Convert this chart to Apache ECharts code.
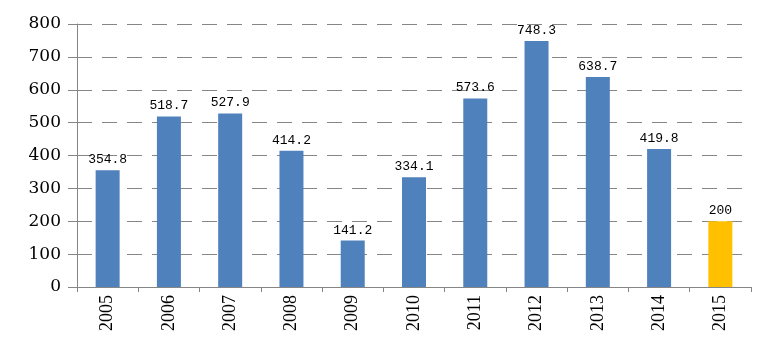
<!DOCTYPE html>
<html><head><meta charset="utf-8">
<script src="https://cdn.jsdelivr.net/npm/echarts@6/dist/echarts.min.js"></script>
<style>html,body{margin:0;padding:0;background:#fff}#c{width:773px;height:350px}</style>
</head><body><div id="c"></div>
<script>
var categories = ['2005','2006','2007','2008','2009','2010','2011','2012','2013','2014','2015'];
var values = [354.8, 518.7, 527.9, 414.2, 141.2, 334.1, 573.6, 748.3, 638.7, 419.8, 200];
var yTicks = [0, 100, 200, 300, 400, 500, 600, 700, 800];
var highlightIndex = 10;

var chart = echarts.init(document.getElementById('c'));
chart.setOption({
  animation: false,
  grid: {left: 77, right: 22, top: 24, bottom: 63},
  xAxis: {
    type: 'category', data: categories,
    axisLine: {lineStyle: {color: '#868686', width: 1}},
    axisTick: {show: true, length: 5, lineStyle: {color: '#868686'}},
    axisLabel: {rotate: 90, fontFamily: 'Liberation Serif', fontSize: 18, color: '#000', margin: 8}
  },
  yAxis: {
    type: 'value', min: yTicks[0], max: yTicks[yTicks.length - 1], interval: 100,
    axisLine: {show: true, lineStyle: {color: '#868686'}},
    axisTick: {show: true, length: 9, lineStyle: {color: '#868686'}},
    axisLabel: {fontFamily: 'DejaVu Serif', fontSize: 17, color: '#000', margin: 16},
    splitLine: {lineStyle: {color: '#868686', type: [15, 10], width: 1}}
  },
  series: [{
    type: 'bar',
    data: values.map(function (v, i) {
      return i === highlightIndex ? {value: v, itemStyle: {color: '#FFC000'}} : v;
    }),
    barWidth: 24,
    itemStyle: {color: '#4F81BD'},
    label: {show: true, position: 'top', distance: 4, fontFamily: 'Liberation Mono', fontSize: 13, color: '#000'}
  }]
});
</script></body></html>
